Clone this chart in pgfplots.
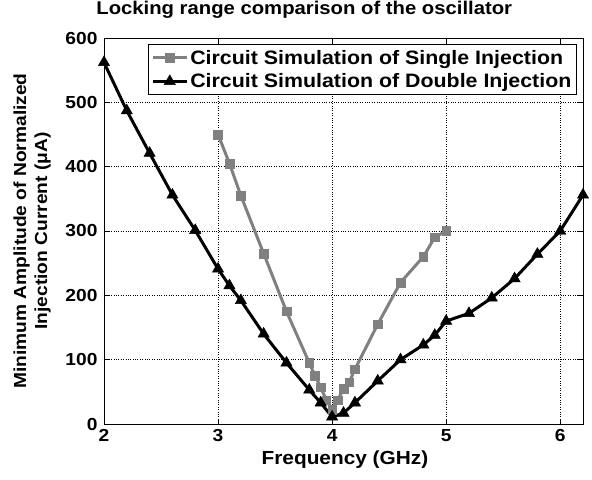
\documentclass[border=0pt]{standalone}
\usepackage{fontspec}
\setmainfont[FakeStretch=1.1]{Liberation Sans}
\usepackage{pgfplots}
\pgfplotsset{compat=1.18}
\definecolor{sgray}{RGB}{128,128,128}
\begin{document}
\begin{tikzpicture}
\useasboundingbox (0,0) rectangle (592bp,480bp);
\begin{axis}[
  at={(104bp,56bp)}, anchor=south west,
  scale only axis, width=479bp, height=386bp,
  xmin=2, xmax=6.2, ymin=0, ymax=600,
  xtick={2,3,4,5,6}, ytick={0,100,...,600},
  tick align=inside, major tick length=5bp,
  grid=major, major grid style={dotted, black, line width=0.7pt},
  axis line style={black, line width=0.8pt},
  tick style={black, line width=0.8pt},
  /pgf/number format/assume math mode=true,
  ticklabel style={font=\fontsize{17.5}{17.5}\selectfont\bfseries},
  xticklabel style={yshift=-2bp},
  yticklabel style={xshift=-3bp},
  title={Locking range comparison of the oscillator},
  title style={font=\fontsize{18.5}{18.5}\selectfont\bfseries, at={(axis description cs:0.418,1)}, anchor=base, yshift=18bp},
  xlabel={Frequency (GHz)},
  xlabel style={font=\fontsize{19}{19}\selectfont\bfseries, at={(axis description cs:0.503,0)}, anchor=base, yshift=-40bp},
  ylabel={Minimum Amplitude of Normalized\\Injection Current (μA)},
  ylabel style={font=\fontsize{17.5}{21}\selectfont\bfseries, align=center, at={(axis description cs:-0.104,0.5)}, anchor=south, rotate=0},
  legend style={at={(0.987,0.984)}, anchor=north east, draw=black, line width=0.8pt,
    font=\fontsize{19.5}{21}\selectfont\bfseries, inner xsep=3bp, inner ysep=3.5bp, row sep=4bp, cells={anchor=west}},
  legend image code/.code={\draw[mark repeat=2,mark phase=2] plot coordinates {(0bp,0bp) (17bp,0bp) (34bp,0bp)};},
]
\addplot[sgray, line width=3bp, mark=square*, mark size=4.3bp, mark options={solid, fill=sgray, draw=sgray, line width=0.5pt}] coordinates {
(3.0,450) (3.1,405) (3.2,355) (3.4,265) (3.6,175) (3.8,95) (3.85,75) (3.9,57) (3.95,37) (4.0,22)
(4.05,37) (4.1,55) (4.15,65) (4.2,85) (4.4,155) (4.6,220) (4.8,260) (4.9,290) (5.0,300)
};
\addlegendentry{Circuit Simulation of Single Injection}
\addplot[black, line width=3bp, mark=triangle*, mark size=6.5bp, mark options={solid, fill=black, line width=0.5pt}] coordinates {
(2.0,562) (2.2,487) (2.4,421) (2.6,356) (2.8,301) (3.0,241) (3.1,215) (3.2,192) (3.4,140)
(3.6,95) (3.8,53) (3.9,33) (4.0,11) (4.1,17) (4.2,33) (4.4,67) (4.6,100) (4.8,123) (4.9,138)
(5.0,160) (5.2,172) (5.4,196) (5.6,226) (5.8,264) (6.0,300) (6.2,356)
};
\addlegendentry{Circuit Simulation of Double Injection}
\end{axis}
\end{tikzpicture}
\end{document}
